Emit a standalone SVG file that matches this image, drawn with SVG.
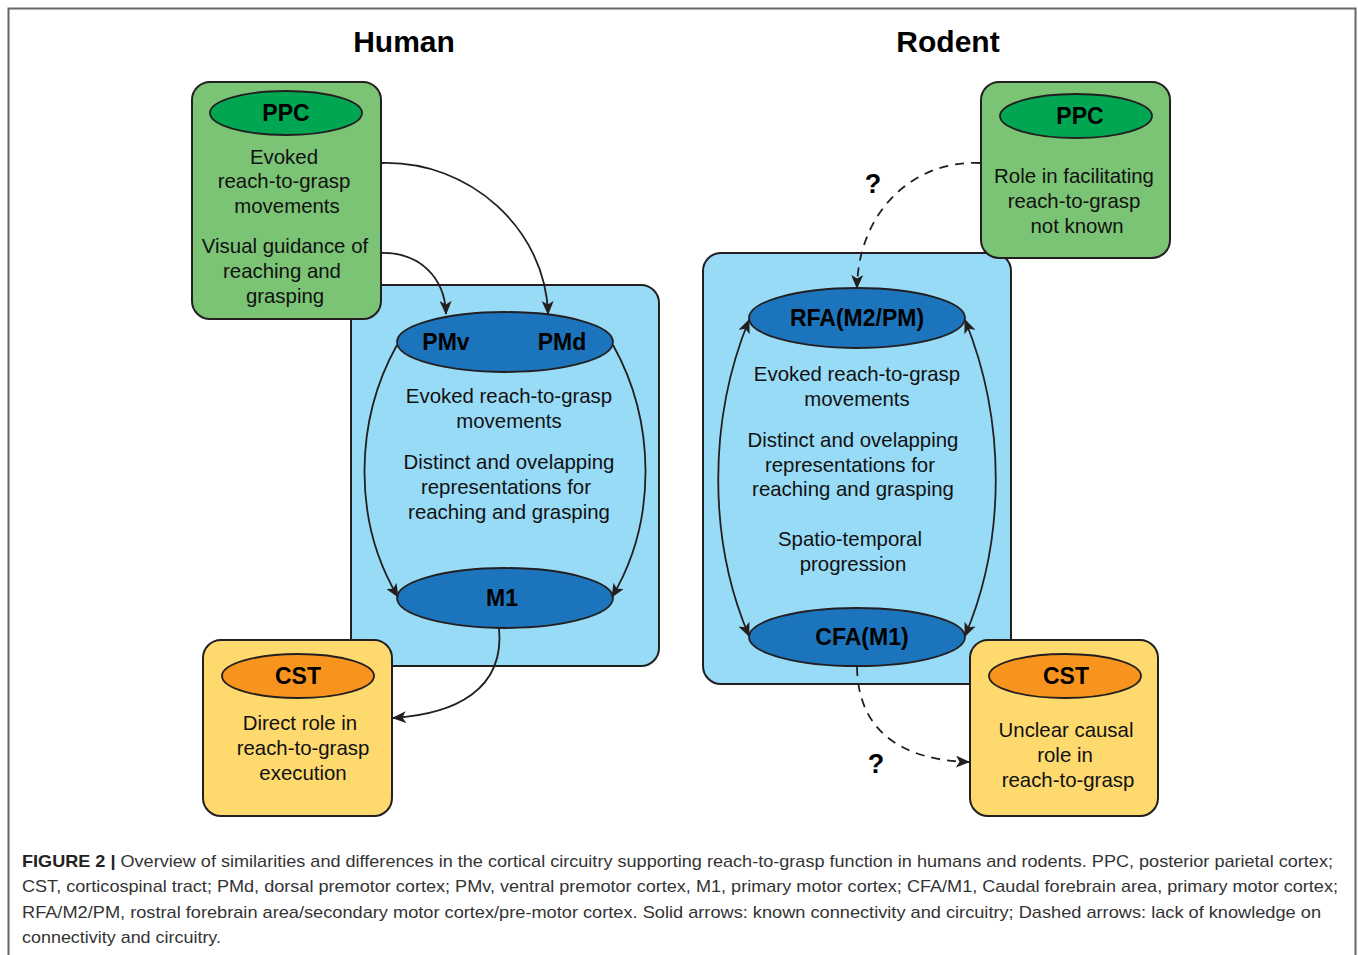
<svg xmlns="http://www.w3.org/2000/svg" width="1358" height="955" viewBox="0 0 1358 955">
<defs>
<marker id="ah" viewBox="0 0 14 12" refX="13" refY="6" markerWidth="14" markerHeight="12" markerUnits="userSpaceOnUse" orient="auto-start-reverse">
<path d="M0,0 L14,6 L0,12 L3.5,6 z" fill="#231f20"/>
</marker>
<style>
.t{font-family:"Liberation Sans",Arial,sans-serif;font-size:20.4px;fill:#111;text-anchor:middle}
.b{font-family:"Liberation Sans",Arial,sans-serif;font-size:23px;font-weight:bold;fill:#000;text-anchor:middle}
.h{font-family:"Liberation Sans",Arial,sans-serif;font-size:30px;font-weight:bold;fill:#000;text-anchor:middle}
.q{font-family:"Liberation Sans",Arial,sans-serif;font-size:27px;font-weight:bold;fill:#000;text-anchor:middle}
.cap{font-family:"Liberation Sans",Arial,sans-serif;font-size:17px;fill:#333}
.box{stroke:#231f20;stroke-width:2}
.grn{fill:#7bc475}
.blu{fill:#98dbf7}
.yel{fill:#fed96e}
.eg{fill:#00a651;stroke:#231f20;stroke-width:1.8}
.eb{fill:#1c75bc;stroke:#231f20;stroke-width:1.8}
.eo{fill:#f7941e;stroke:#231f20;stroke-width:1.8}
.c{fill:none;stroke:#231f20;stroke-width:1.8}
.d{fill:none;stroke:#231f20;stroke-width:1.8;stroke-dasharray:9 7}
</style>
</defs>
<rect width="1358" height="955" fill="#fff"/>
<path d="M8.5 955 V8.5 H1355.5 V955" fill="none" stroke="#666" stroke-width="2"/>
<text class="h" x="404" y="52">Human</text>
<text class="h" x="948" y="52">Rodent</text>

<g id="human-motor">
<rect class="box blu" x="351" y="285" width="308" height="381" rx="18"/>
<text class="t" x="509" y="403">Evoked reach-to-grasp</text>
<text class="t" x="509" y="428">movements</text>
<text class="t" x="509" y="469">Distinct and ovelapping</text>
<text class="t" x="506" y="494">representations for</text>
<text class="t" x="509" y="519">reaching and grasping</text>
</g>
<g id="human-pmv-pmd">
<ellipse class="eb" cx="505" cy="342" rx="108" ry="30"/>
<text class="b" x="446" y="350">PMv</text>
<text class="b" x="562" y="350">PMd</text>
</g>
<g id="human-m1">
<ellipse class="eb" cx="505" cy="598" rx="108" ry="30"/>
<text class="b" x="502" y="606">M1</text>
</g>
<g id="human-ppc">
<rect class="box grn" x="192" y="82" width="189" height="237" rx="18"/>
<ellipse class="eg" cx="286" cy="113" rx="76" ry="22"/>
<text class="b" x="286" y="121">PPC</text>
<text class="t" x="284" y="164">Evoked</text>
<text class="t" x="284" y="188">reach-to-grasp</text>
<text class="t" x="287" y="213">movements</text>
<text class="t" x="285" y="253">Visual guidance of</text>
<text class="t" x="282" y="278">reaching and</text>
<text class="t" x="285" y="303">grasping</text>
</g>
<g id="human-cst">
<rect class="box yel" x="203" y="640" width="189" height="176" rx="18"/>
<ellipse class="eo" cx="298" cy="676" rx="76" ry="22"/>
<text class="b" x="298" y="684">CST</text>
<text class="t" x="300" y="730">Direct role in</text>
<text class="t" x="303" y="755">reach-to-grasp</text>
<text class="t" x="303" y="780">execution</text>
</g>

<g id="rodent-motor">
<rect class="box blu" x="703" y="253" width="308" height="431" rx="18"/>
<text class="t" x="857" y="381">Evoked reach-to-grasp</text>
<text class="t" x="857" y="406">movements</text>
<text class="t" x="853" y="447">Distinct and ovelapping</text>
<text class="t" x="850" y="472">representations for</text>
<text class="t" x="853" y="496">reaching and grasping</text>
<text class="t" x="850" y="546">Spatio-temporal</text>
<text class="t" x="853" y="571">progression</text>
</g>
<g id="rodent-rfa">
<ellipse class="eb" cx="857" cy="318" rx="108" ry="30"/>
<text class="b" x="857" y="326">RFA(M2/PM)</text>
</g>
<g id="rodent-cfa">
<ellipse class="eb" cx="857" cy="637" rx="108" ry="29"/>
<text class="b" x="862" y="645">CFA(M1)</text>
</g>
<g id="rodent-ppc">
<rect class="box grn" x="981" y="82" width="189" height="176" rx="18"/>
<ellipse class="eg" cx="1076" cy="116" rx="76" ry="22"/>
<text class="b" x="1080" y="124">PPC</text>
<text class="t" x="1074" y="183">Role in facilitating</text>
<text class="t" x="1074" y="208">reach-to-grasp</text>
<text class="t" x="1077" y="233">not known</text>
</g>
<g id="rodent-cst">
<rect class="box yel" x="970" y="640" width="188" height="176" rx="18"/>
<ellipse class="eo" cx="1065" cy="676" rx="76" ry="22"/>
<text class="b" x="1066" y="684">CST</text>
<text class="t" x="1066" y="737">Unclear causal</text>
<text class="t" x="1065" y="762">role in</text>
<text class="t" x="1068" y="787">reach-to-grasp</text>
</g>

<g id="connectors">
<path class="c" d="M381 163 C470 160 546 230 548 314" marker-end="url(#ah)"/>
<path class="c" d="M381 253 C420 252 445 278 446 314" marker-end="url(#ah)"/>
<path class="c" d="M397 345 C355 420 352 520 398 597" marker-end="url(#ah)"/>
<path class="c" d="M613 345 C655 420 658 520 612 597" marker-end="url(#ah)"/>
<path class="c" d="M499 628 C505 690 455 714 393 718" marker-end="url(#ah)"/>
<path class="c" d="M749 320 C708 420 708 540 749 636" marker-start="url(#ah)" marker-end="url(#ah)"/>
<path class="c" d="M965 320 C1006 420 1006 540 965 636" marker-start="url(#ah)" marker-end="url(#ah)"/>
<path class="d" d="M980 163 C910 160 858 215 857 288" marker-end="url(#ah)"/>
<path class="d" d="M857 667 C858 730 900 760 969 762" marker-end="url(#ah)"/>
<text class="q" x="873" y="193">?</text>
<text class="q" x="876" y="773">?</text>
</g>

<g id="caption">
<text class="cap" x="22" y="867" textLength="1311" lengthAdjust="spacingAndGlyphs"><tspan font-weight="bold" fill="#222">FIGURE 2 |</tspan> Overview of similarities and differences in the cortical circuitry supporting reach-to-grasp function in humans and rodents. PPC, posterior parietal cortex;</text>
<text class="cap" x="22" y="892" textLength="1316" lengthAdjust="spacingAndGlyphs">CST, corticospinal tract; PMd, dorsal premotor cortex; PMv, ventral premotor cortex, M1, primary motor cortex; CFA/M1, Caudal forebrain area, primary motor cortex;</text>
<text class="cap" x="22" y="918" textLength="1299" lengthAdjust="spacingAndGlyphs">RFA/M2/PM, rostral forebrain area/secondary motor cortex/pre-motor cortex. Solid arrows: known connectivity and circuitry; Dashed arrows: lack of knowledge on</text>
<text class="cap" x="22" y="943" textLength="199" lengthAdjust="spacingAndGlyphs">connectivity and circuitry.</text>
</g>
</svg>
